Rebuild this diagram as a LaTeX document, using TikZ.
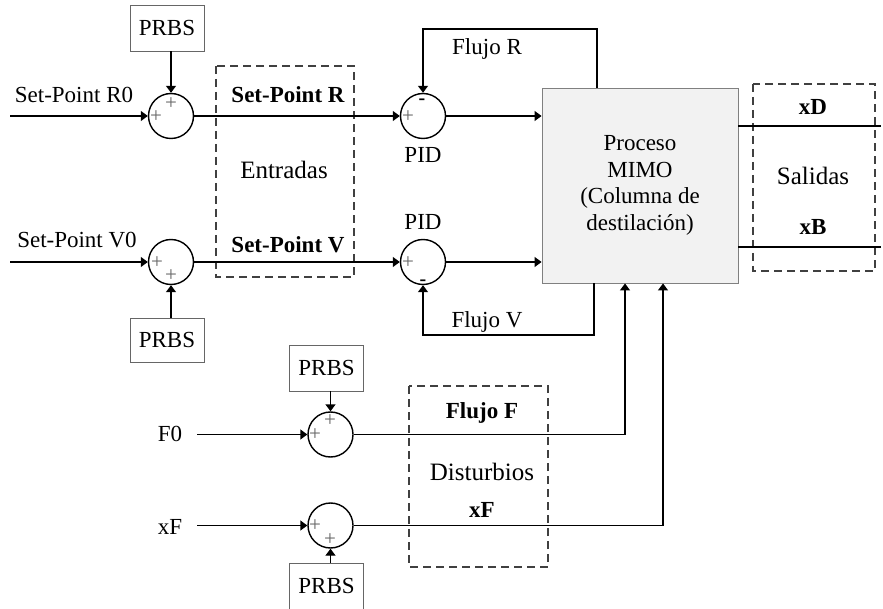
\documentclass[tikz,border=0pt]{standalone}
\usepackage{fontspec}
\setmainfont{Liberation Serif}
\usetikzlibrary{arrows.meta,calc}
\begin{document}
\tikzset{
 ln/.style={line width=1.4pt},
 arr/.style={ln,-{Triangle[length=7pt,width=10pt]}},
 sumc/.style={circle,draw,line width=1.4pt,minimum size=45pt,inner sep=0pt},
 prbsbox/.style={draw=gray!80!black,line width=0.8pt,minimum width=74pt,minimum height=46pt,inner sep=0pt,font=\fontsize{23}{26}\selectfont},
 grp/.style={draw=black!75,line width=1.5pt,dash pattern=on 8pt off 5pt},
 lbl/.style={font=\fontsize{23}{26}\selectfont,inner sep=0pt,anchor=base},
 blbl/.style={lbl,font=\fontsize{23}{26}\selectfont\bfseries},
 glbl/.style={lbl,font=\fontsize{25}{28}\selectfont},
 sgn/.style={font=\fontsize{21}{21}\selectfont,text=black!60,inner sep=0pt},
 msgn/.style={font=\fontsize{20}{20}\selectfont\bfseries,inner sep=0pt},
}
\begin{tikzpicture}[x=1pt,y=-1pt]
\useasboundingbox (0,0) rectangle (883,609);
% blocks
\node[prbsbox] (prbs1) at (167,28) {PRBS};
\node[prbsbox,minimum height=44pt] (prbs2) at (167,340) {PRBS};
\node[prbsbox] (prbs3) at (326.5,368) {PRBS};
\node[prbsbox] (prbs4) at (326.5,586) {PRBS};
\node[sumc] (s1) at (171,116) {};
\node[sumc] (s2) at (171,262) {};
\node[sumc] (pidR) at (423,116) {};
\node[sumc] (pidV) at (423,262) {};
\node[sumc] (sF) at (330.5,434.5) {};
\node[sumc] (sX) at (330.5,525.5) {};
\node[draw=gray,line width=0.9pt,fill=black!5,minimum width=196pt,minimum height=195pt,inner sep=0pt,align=center,font=\fontsize{23}{26.5}\selectfont] (proc) at (640,185.5) {Proceso\\MIMO\\(Columna de\\destilación)};
% signs
\node[sgn] (s1a) at (156,117) {+};
\node[sgn] (s1b) at (171,104) {+};
\node[sgn] (s2a) at (157,263) {+};
\node[sgn] (s2b) at (171,276) {+};
\node[sgn] (pRa) at (408,117) {+};
\node[msgn] (pRb) at (422,102) {-};
\node[sgn] (pVa) at (408,263) {+};
\node[msgn] (pVb) at (423,283) {-};
\node[sgn] (sFa) at (315,435) {+};
\node[sgn] (sFb) at (330,421) {+};
\node[sgn] (sXa) at (315,526) {+};
\node[sgn] (sXb) at (330,540) {+};
% group boxes
\draw[grp] (216,66) rectangle (354,277);
\draw[grp] (753,84) rectangle (875,271);
\draw[grp] (409,386) rectangle (548,567);
% inputs
\coordinate (inR) at (10,116);
\coordinate (inV) at (10,262);
\coordinate (inF) at (197,434.5);
\coordinate (inX) at (197,525.5);
\draw[arr] (inR) -- (s1.west);
\draw[arr] (inV) -- (s2.west);
\draw[arr] (inF) -- (sF.west);
\draw[arr] (inX) -- (sX.west);
\draw[arr] (s1.north |- prbs1.south) -- (s1.north);
\draw[arr] (s2.south |- prbs2.north) -- (s2.south);
\draw[arr] (sF.north |- prbs3.south) -- (sF.north);
\draw[arr] (sX.south |- prbs4.north) -- (sX.south);
\draw[arr] (s1.east) -- (pidR.west);
\draw[arr] (s2.east) -- (pidV.west);
\draw[arr] (pidR.east) -- (pidR.east -| proc.west);
\draw[arr] (pidV.east) -- (pidV.east -| proc.west);
% feedback
\coordinate (fr) at (597,29);
\coordinate (fv) at (594,335);
\draw[arr] (proc.north -| fr) -- (fr) -| (pidR.north);
\draw[arr] (proc.south -| fv) -- (fv) -| (pidV.south);
% disturbances
\coordinate (dF) at (625,434.5);
\coordinate (dX) at (663,525.5);
\draw[arr] (sF.east) -- (dF) -- (proc.south -| dF);
\draw[arr] (sX.east) -- (dX) -- (proc.south -| dX);
% outputs
\coordinate (oD) at (881,126);
\coordinate (oB) at (881,247);
\draw[ln] (proc.east |- oD) -- (oD);
\draw[ln] (proc.east |- oB) -- (oB);
% labels
\node[lbl] (tR0) at (74,103) {Set-Point R0};
\node[lbl] (tV0) at (77,248) {Set-Point V0};
\node[blbl] (tR) at (288,103) {Set-Point R};
\node[glbl] (tE) at (284,179) {Entradas};
\node[blbl] (tV) at (288,253) {Set-Point V};
\node[lbl] (tFR) at (487,55) {Flujo R};
\node[lbl] (tP1) at (423,163) {PID};
\node[lbl] (tP2) at (423,230) {PID};
\node[lbl] (tFV) at (487,327) {Flujo V};
\node[blbl] (txD) at (813,115) {xD};
\node[glbl] (tS) at (813,185) {Salidas};
\node[blbl] (txB) at (813,235) {xB};
\node[lbl] (tF0) at (170,441) {F0};
\node[lbl] (txF0) at (170,534) {xF};
\node[blbl] (tFF) at (482,418) {Flujo F};
\node[glbl] (tD) at (482,480) {Disturbios};
\node[blbl] (txF) at (482,517) {xF};
\end{tikzpicture}
\end{document}
